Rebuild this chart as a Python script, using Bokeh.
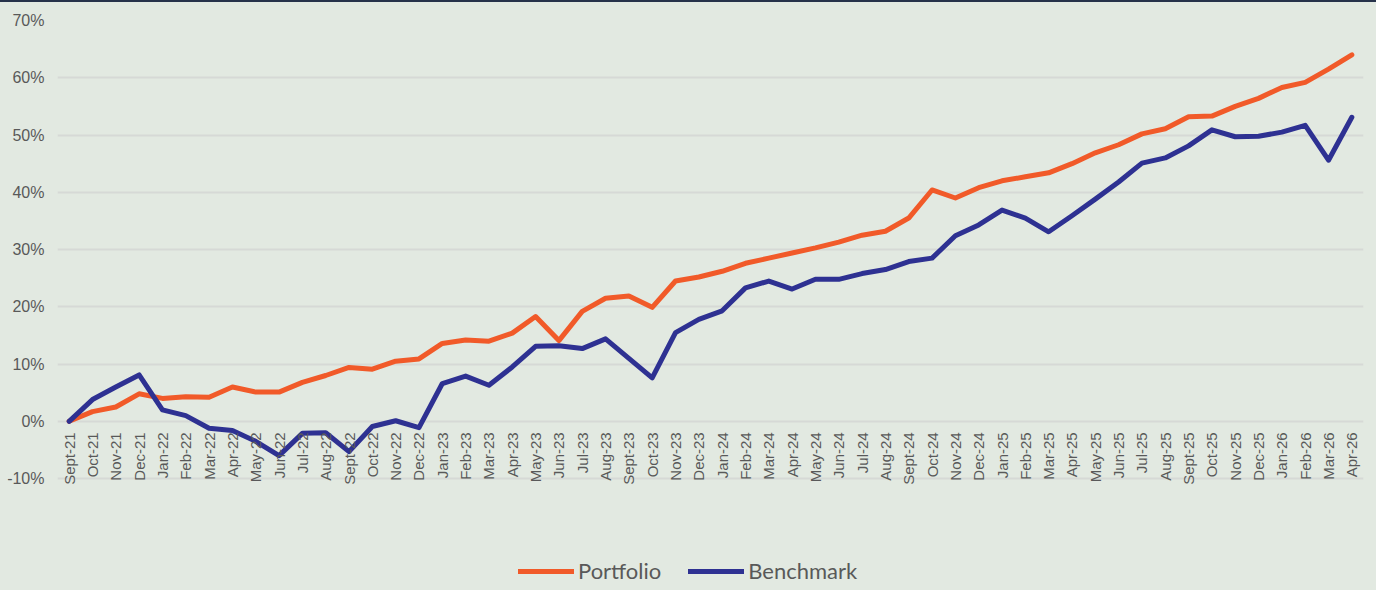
import math
from bokeh.plotting import figure
from bokeh.models import (ColumnDataSource, FactorRange, Range1d, FixedTicker,
                          PrintfTickFormatter, Legend, LegendItem)
from bokeh.core.properties import value
from bokeh.embed import file_html
from bokeh.resources import INLINE

months = ["Sept-21", "Oct-21", "Nov-21", "Dec-21",
          "Jan-22", "Feb-22", "Mar-22", "Apr-22", "May-22", "Jun-22", "Jul-22", "Aug-22",
          "Sept-22", "Oct-22", "Nov-22", "Dec-22",
          "Jan-23", "Feb-23", "Mar-23", "Apr-23", "May-23", "Jun-23", "Jul-23", "Aug-23",
          "Sept-23", "Oct-23", "Nov-23", "Dec-23",
          "Jan-24", "Feb-24", "Mar-24", "Apr-24", "May-24", "Jun-24", "Jul-24", "Aug-24",
          "Sept-24", "Oct-24", "Nov-24", "Dec-24",
          "Jan-25", "Feb-25", "Mar-25", "Apr-25", "May-25", "Jun-25", "Jul-25", "Aug-25",
          "Sept-25", "Oct-25", "Nov-25", "Dec-25",
          "Jan-26", "Feb-26", "Mar-26", "Apr-26"]

portfolio = [0.0, 1.7, 2.5, 4.8, 4.0, 4.3, 4.2, 6.0, 5.1, 5.1, 6.8, 8.0,
             9.4, 9.1, 10.5, 10.9, 13.6, 14.2, 14.0, 15.4, 18.3, 14.1, 19.2, 21.5,
             21.9, 19.9, 24.5, 25.2, 26.2, 27.6, 28.5, 29.4, 30.3, 31.3, 32.5, 33.2,
             35.5, 40.4, 39.0, 40.8, 42.0, 42.7, 43.4, 45.0, 46.9, 48.3, 50.2, 51.1,
             53.2, 53.3, 55.0, 56.4, 58.3, 59.2, 61.5, 64.0]

benchmark = [0.0, 3.8, 6.0, 8.1, 2.0, 1.0, -1.2, -1.6, -3.5, -6.0, -2.1, -2.0,
             -5.3, -0.9, 0.1, -1.1, 6.6, 7.9, 6.3, 9.5, 13.1, 13.2, 12.7, 14.4,
             11.0, 7.6, 15.5, 17.8, 19.3, 23.3, 24.5, 23.1, 24.8, 24.8, 25.8, 26.5,
             27.9, 28.5, 32.4, 34.3, 36.9, 35.5, 33.1, 35.9, 38.8, 41.8, 45.1, 46.0,
             48.1, 50.9, 49.7, 49.8, 50.5, 51.7, 45.6, 53.1]

y_ticks = [-10, 0, 10, 20, 30, 40, 50, 60, 70]

series_names = ["Portfolio", "Benchmark"]
series_colors = ["#F15A29", "#2E3192"]

BG = "#E2E9E1"
TXT = "#595959"

src = ColumnDataSource(dict(m=months, p=portfolio, b=benchmark,
                            zero=[0] * len(months)))

p = figure(width=1364, height=584,
           x_range=FactorRange(*months, range_padding=0),
           y_range=Range1d(-28.5, 70),
           output_backend="svg", toolbar_location=None,
           background_fill_color=BG, border_fill_color=BG,
           min_border_left=57, min_border_right=1,
           min_border_top=20, min_border_bottom=0)
p.outline_line_color = None

r1 = p.line("m", "p", source=src, line_color=series_colors[0], line_width=5,
            line_join="round", line_cap="round")
r2 = p.line("m", "b", source=src, line_color=series_colors[1], line_width=5,
            line_join="round", line_cap="round")

# y axis
p.yaxis.ticker = FixedTicker(ticks=y_ticks)
p.yaxis.formatter = PrintfTickFormatter(format="%d%%")
p.yaxis.axis_line_color = None
p.yaxis.major_tick_line_color = None
p.yaxis.minor_tick_line_color = None
p.yaxis.major_tick_out = 0
p.yaxis.major_tick_in = 0
p.yaxis.major_label_text_font = "Liberation Sans"
p.yaxis.major_label_text_font_size = "16px"
p.yaxis.major_label_text_color = TXT
p.yaxis.major_label_standoff = 13

# category axis: labels hang from the 0% line (Excel style)
p.xaxis.visible = False
p.text(x="m", y="zero", text="m", source=src, angle=math.pi / 2,
       text_align="right", text_baseline="middle", y_offset=11,
       text_font=value("Liberation Sans"), text_font_size=value("15px"),
       text_color=TXT)

p.xgrid.grid_line_color = None
p.ygrid.ticker = FixedTicker(ticks=y_ticks)
p.ygrid.grid_line_color = "#D6D9D6"
p.ygrid.grid_line_width = 2

legend = Legend(items=[LegendItem(label=series_names[0], renderers=[r1]),
                       LegendItem(label=series_names[1], renderers=[r2])],
                orientation="horizontal", location=(461, 0),
                padding=0, margin=0, spacing=27, glyph_width=56, glyph_height=20,
                label_standoff=4, label_text_font="Lato",
                label_text_font_size="22px", label_text_color=TXT,
                background_fill_alpha=0, border_line_alpha=0)
p.add_layout(legend, "center")

html = file_html(p, INLINE)
html = html.replace(
    "<head>",
    "<head><style>html,body{background:#E2E9E1;}"
    "body::before{content:'';position:fixed;top:0;left:0;right:0;height:2px;background:#26324A;z-index:10;}"
    "</style>", 1)
open("out.html", "w").write(html)
